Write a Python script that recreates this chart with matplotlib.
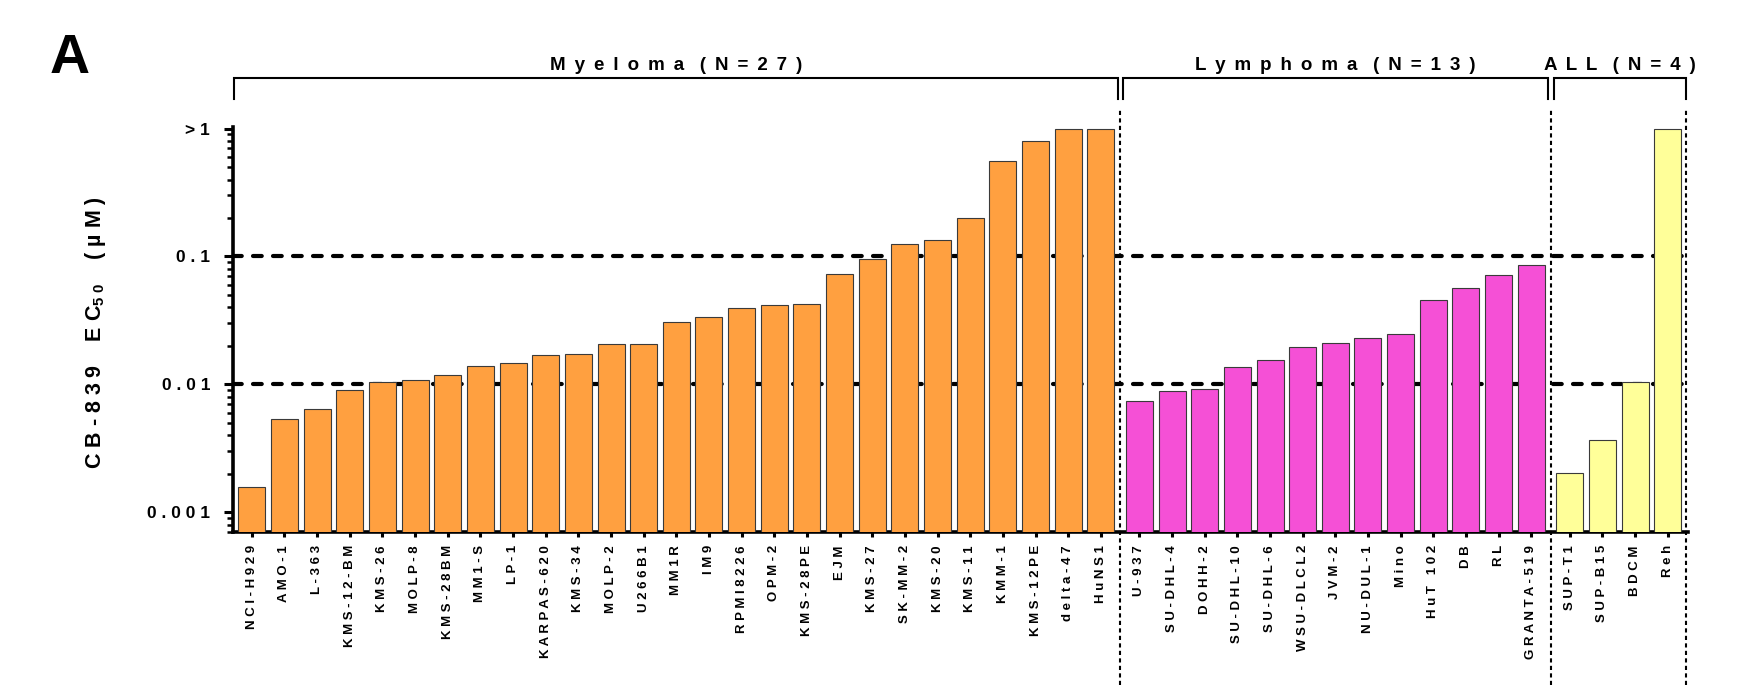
import numpy as np
import matplotlib
matplotlib.use("Agg")
import matplotlib.pyplot as plt
from matplotlib.ticker import FixedLocator, LogLocator, NullFormatter
from matplotlib.transforms import blended_transform_factory

# ---- data -------------------------------------------------------------
myeloma_lines = ["NCI-H929", "AMO-1", "L-363", "KMS-12-BM", "KMS-26", "MOLP-8",
                 "KMS-28BM", "MM1-S", "LP-1", "KARPAS-620", "KMS-34", "MOLP-2",
                 "U266B1", "MM1R", "IM9", "RPMI8226", "OPM-2", "KMS-28PE", "EJM",
                 "KMS-27", "SK-MM-2", "KMS-20", "KMS-11", "KMM-1", "KMS-12PE",
                 "delta-47", "HuNS1"]
myeloma_ec50 = [0.00158, 0.00533, 0.00646, 0.0091, 0.0104, 0.0109, 0.01175,
                0.0140, 0.01468, 0.01706, 0.01726, 0.0205, 0.02066, 0.0307,
                0.0334, 0.0393, 0.0414, 0.0427, 0.0733, 0.0959, 0.1256, 0.1358,
                0.199, 0.5625, 0.796, 1.0, 1.0]

lymphoma_lines = ["U-937", "SU-DHL-4", "DOHH-2", "SU-DHL-10", "SU-DHL-6",
                  "WSU-DLCL2", "JVM-2", "NU-DUL-1", "Mino", "HuT 102", "DB",
                  "RL", "GRANTA-519"]
lymphoma_ec50 = [0.00741, 0.00893, 0.00927, 0.01365, 0.0156, 0.0196, 0.0212,
                 0.0229, 0.0247, 0.0459, 0.0569, 0.0711, 0.0856]

all_lines = ["SUP-T1", "SUP-B15", "BDCM", "Reh"]
all_ec50 = [0.00204, 0.00365, 0.0105, 1.0]

group_titles = ["Myeloma (N=27)", "Lymphoma (N=13)", "ALL (N=4)"]
ytick_values = [0.001, 0.01, 0.1, 1.0]
ytick_labels = ["0.001", "0.01", "0.1", ">1"]
threshold_levels = [0.01, 0.1]

# ---- style --------------------------------------------------------------
plt.rcParams["font.family"] = ["Liberation Sans", "DejaVu Sans"]
plt.rcParams["font.weight"] = "bold"
plt.rcParams["mathtext.fontset"] = "custom"
plt.rcParams["mathtext.rm"] = "Liberation Sans:bold"
plt.rcParams["mathtext.it"] = "Liberation Sans:bold"
plt.rcParams["mathtext.bf"] = "Liberation Sans:bold"

group_colors = ["#FFA040", "#F550D6", "#FFFF99"]
edge_color = "#3a3a3a"


def spaced(s, joiner=" "):
    return joiner.join(s)


def tracked_title(s):
    # wide tracking for the group headers
    words = s.split(" ")
    return "   ".join(spaced(w, " \u2009") for w in words)


W, H = 1755, 690
fig = plt.figure(figsize=(W / 100, H / 100), dpi=100)
ax = fig.add_axes([233 / W, 1 - 532 / H, (1688 - 233) / W, (532 - 127) / H])

# bar positions: unit pitch with a small extra gap between groups
group_gap = 0.18
groups = [(myeloma_lines, myeloma_ec50), (lymphoma_lines, lymphoma_ec50),
          (all_lines, all_ec50)]
positions, names, values, colors = [], [], [], []
start = 0.0
group_spans = []
for gi, (lab, val) in enumerate(groups):
    pos = start + np.arange(len(lab))
    positions.extend(pos)
    names.extend(lab)
    values.extend(val)
    colors.extend([group_colors[gi]] * len(lab))
    group_spans.append((pos[0], pos[-1]))
    start = pos[-1] + 1 + group_gap
positions = np.array(positions)

ax.set_yscale("log")
ax.bar(positions, values, width=0.827, color=colors, edgecolor=edge_color,
       linewidth=0.8, zorder=3)

ax.set_xlim(positions[0] - 0.576, positions[-1] + 0.62)
ax.set_ylim(7.0e-4, 1.03)

# threshold lines
for lvl in threshold_levels:
    ax.axhline(lvl, color="black", lw=3.0, ls=(0, (2.1, 2.7)),
               dash_capstyle="round", zorder=2)

# group separators and brackets
trans = blended_transform_factory(ax.transData, ax.transAxes)
seps = [(group_spans[i][1] + group_spans[i + 1][0]) / 2 for i in range(2)]
bounds = [positions[0] - 0.55] + seps + [positions[-1] + 0.57]
for xs in bounds[1:]:
    ax.plot([xs, xs], [-0.378, 1.042], transform=trans, clip_on=False,
            color="black", lw=1.5, ls=(0, (2.0, 1.6)), zorder=4)

for gi, title in enumerate(group_titles):
    x0 = bounds[gi] + (0.1 if gi > 0 else 0.0)
    x1 = bounds[gi + 1] - (0.08 if gi < 2 else 0.0)
    ax.plot([x0, x0, x1, x1], [1.069, 1.12, 1.12, 1.069], transform=trans,
            clip_on=False, color="black", lw=1.5, solid_joinstyle="miter",
            zorder=4)
    ax.text((x0 + x1) / 2, 1.141, tracked_title(title),
            transform=trans, ha="center", va="baseline", fontsize=13.5,
            fontweight="bold")

# axes
for side in ("top", "right"):
    ax.spines[side].set_visible(False)
for side in ("left", "bottom"):
    ax.spines[side].set_linewidth(2.6)

ax.yaxis.set_major_locator(FixedLocator(ytick_values))
ax.set_yticklabels([spaced(t) for t in ytick_labels], fontsize=12.5,
                   fontweight="bold")
ax.yaxis.set_minor_locator(LogLocator(base=10, subs=np.arange(2, 10)))
ax.yaxis.set_minor_formatter(NullFormatter())
ax.tick_params(axis="y", which="major", direction="out", length=6.5, width=2.2,
               pad=10)
ax.tick_params(axis="y", which="minor", direction="out", length=4, width=1.8)

ax.set_xticks(positions)
ax.set_xticklabels([spaced(n) for n in names], rotation=90, fontsize=9.5,
                   fontweight="bold")
ax.tick_params(axis="x", which="major", direction="out", length=3.5, width=2.2,
               pad=6)
ax.tick_params(axis="x", which="minor", length=0)

fig.text(96 / W, 1 - 333 / H,
         "C B - 8 3 9    E C$_{5\\ 0}$    ( \u00b5 M )",
         rotation=90, ha="center", va="center", fontsize=15.5, fontweight="bold")

fig.text(50 / W, 1 - 73 / H, "A", fontsize=40, fontweight="bold",
         ha="left", va="baseline")

fig.savefig("out.png", dpi=100)
